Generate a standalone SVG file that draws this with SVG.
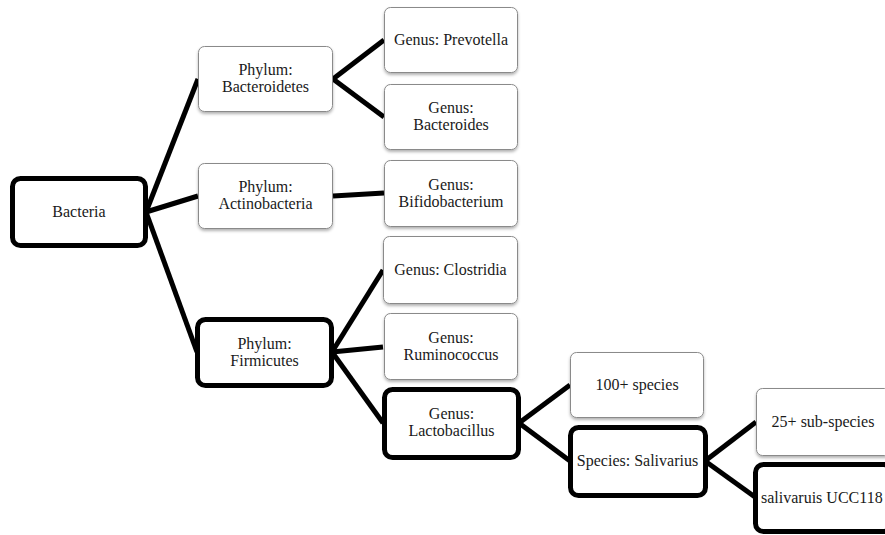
<svg xmlns="http://www.w3.org/2000/svg" width="885" height="535" viewBox="0 0 885 535">
<defs>
<filter id="sh" x="-10%" y="-10%" width="130%" height="140%">
<feDropShadow dx="0" dy="2" stdDeviation="1.5" flood-color="#000" flood-opacity="0.3"/>
</filter>
<style>
.thin{fill:#fff;stroke:#8a8a8a;stroke-width:1;filter:url(#sh)}
.thick{fill:#fff;stroke:#000;stroke-width:5}
text{font-family:"Liberation Serif","DejaVu Serif",serif;font-size:16px;fill:#1a1a1a;text-anchor:middle}
.c line{stroke:#000;stroke-width:5;stroke-linecap:butt}
</style>
</defs>
<rect width="885" height="535" fill="#fff"/>
<g class="c" id="connectors">
<line x1="146" y1="212" x2="198" y2="79"/>
<line x1="146" y1="212" x2="198" y2="196"/>
<line x1="146" y1="212" x2="197" y2="352"/>
<line x1="333" y1="79" x2="384" y2="40"/>
<line x1="333" y1="79" x2="384" y2="117"/>
<line x1="333" y1="196" x2="384" y2="193"/>
<line x1="332" y1="352" x2="383" y2="270"/>
<line x1="332" y1="352" x2="383" y2="347"/>
<line x1="332" y1="352" x2="383" y2="423"/>
<line x1="519" y1="423" x2="570" y2="385"/>
<line x1="519" y1="423" x2="570" y2="461"/>
<line x1="705" y1="461" x2="756" y2="422"/>
<line x1="705" y1="461" x2="755" y2="497"/>
</g>
<g id="bacteria"><rect class="thick" x="12.5" y="178.5" width="133" height="67" rx="8"/><text x="79" y="217">Bacteria</text></g>
<g id="bacteroidetes"><rect class="thin" x="198.5" y="46.5" width="134" height="65" rx="6"/><text x="265.5" y="75">Phylum:</text><text x="265.5" y="92">Bacteroidetes</text></g>
<g id="actinobacteria"><rect class="thin" x="198.5" y="163.5" width="134" height="65" rx="6"/><text x="265.5" y="192">Phylum:</text><text x="265.5" y="209">Actinobacteria</text></g>
<g id="firmicutes"><rect class="thick" x="197.5" y="319.5" width="134" height="66" rx="8"/><text x="264.5" y="349">Phylum:</text><text x="264.5" y="366">Firmicutes</text></g>
<g id="prevotella"><rect class="thin" x="384.5" y="7.5" width="133" height="65" rx="6"/><text x="451" y="45">Genus: Prevotella</text></g>
<g id="bacteroides"><rect class="thin" x="384.5" y="84.5" width="133" height="65" rx="6"/><text x="451" y="113">Genus:</text><text x="451" y="130">Bacteroides</text></g>
<g id="bifidobacterium"><rect class="thin" x="384.5" y="160.5" width="133" height="66" rx="6"/><text x="451" y="190">Genus:</text><text x="451" y="207">Bifidobacterium</text></g>
<g id="clostridia"><rect class="thin" x="383.5" y="236.5" width="134" height="67" rx="6"/><text x="450.5" y="275">Genus: Clostridia</text></g>
<g id="ruminococcus"><rect class="thin" x="384.5" y="313.5" width="133" height="66" rx="6"/><text x="451" y="343">Genus:</text><text x="451" y="360">Ruminococcus</text></g>
<g id="lactobacillus"><rect class="thick" x="384.5" y="389.5" width="134" height="68" rx="8"/><text x="451.5" y="419">Genus:</text><text x="451.5" y="436">Lactobacillus</text></g>
<g id="species100"><rect class="thin" x="570.5" y="352.5" width="133" height="65" rx="6"/><text x="637" y="390">100+ species</text></g>
<g id="salivarius"><rect class="thick" x="570.5" y="427.5" width="135" height="68" rx="8"/><text x="637.5" y="466">Species: Salivarius</text></g>
<g id="subspecies"><rect class="thin" x="756.5" y="388.5" width="134" height="67" rx="6"/><text x="823" y="427">25+ sub-species</text></g>
<g id="ucc118"><rect class="thick" x="755.5" y="464.5" width="136" height="67" rx="8"/><text x="761" y="503" style="text-anchor:start">salivaruis UCC118</text></g>
</svg>
